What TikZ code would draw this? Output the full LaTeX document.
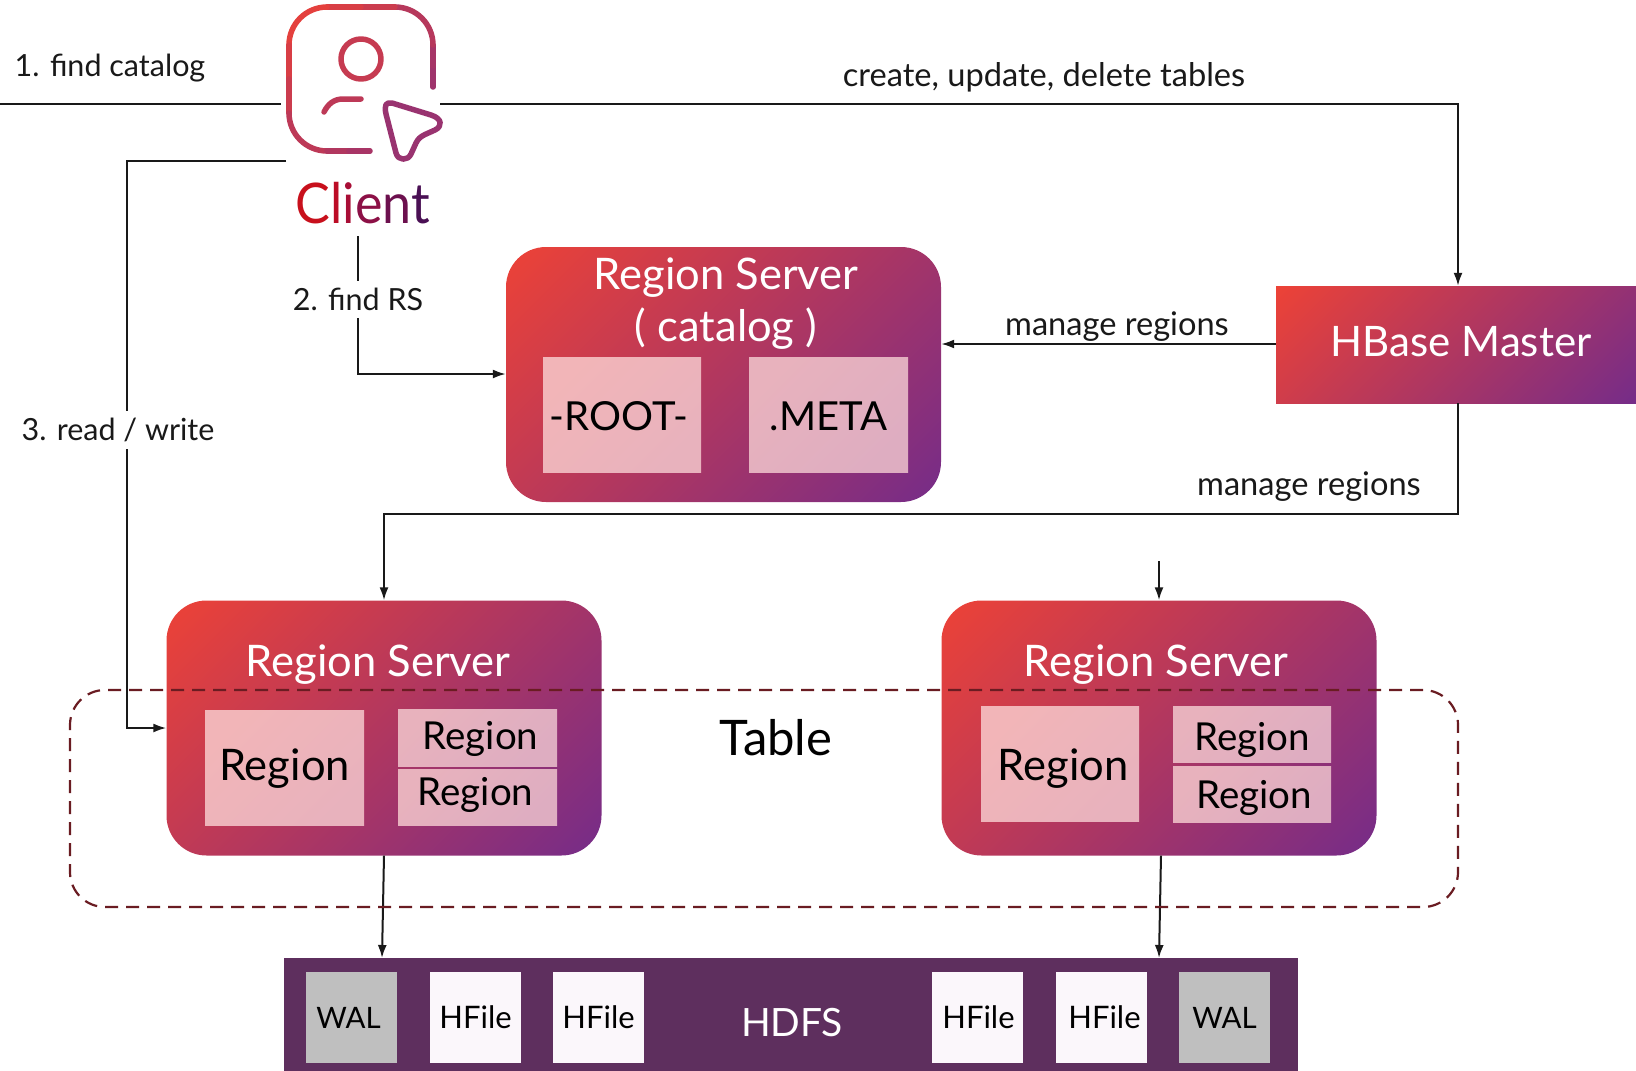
\documentclass[tikz,border=0pt]{standalone}
\usepackage{xcolor}
\usepackage{fontspec}
\setmainfont{Lato}
\usetikzlibrary{positioning, arrows.meta, shapes}

\definecolor{gradstart}{HTML}{EC4237}
\definecolor{gradend}{HTML}{762C88}
\definecolor{hdfsbar}{HTML}{5E2F5E}
\definecolor{tableline}{HTML}{6A1C22}
\definecolor{rosea}{HTML}{F2B5B8}
\definecolor{roseb}{HTML}{E8B2BD}
\definecolor{rosec}{HTML}{DEADC1}

\newcommand{\fsize}[1]{\fontsize{#1}{#1}\selectfont}
\pgfdeclareverticalshading{servergrad}{100bp}{color(0bp)=(gradend); color(15bp)=(gradend); color(85bp)=(gradstart); color(100bp)=(gradstart)}

\begin{document}
\begin{tikzpicture}[x=1pt, y=-1pt,
    conn/.style={line width=2pt, draw=black!90},
    tip/.style={-{Latex[length=13pt,width=9pt]}},
    lab/.style={font=\fsize{30.5}, text=black!90, inner sep=0pt},
    longlab/.style={font=\fsize{32.6}, text=black!90, inner sep=0pt},
    gapped/.style={lab, fill=white, inner ysep=7pt, inner xsep=2pt},
    icon/.style={draw=gradstart!#1!gradend, line width=5.5pt, line cap=round, line join=round},
    grad/.style={shade, shading=servergrad, shading angle=45},
    server/.style={grad, rounded corners=40pt, minimum width=435pt, minimum height=255pt},
    rosewest/.style={top color=rosea, bottom color=roseb, shading angle=45},
    roseeast/.style={top color=roseb, bottom color=rosec, shading angle=45},
    inner box/.style={text=black, font=\fsize{40}, inner sep=0pt, text depth=0pt, text height=#1},
    bigregion/.style={inner box=#1, font=\fsize{43.5}},
    smallregion/.style={inner box=#1, font=\fsize{38.5}},
    srvtext/.style={text=white, font=\fsize{43.5}, inner sep=0pt},
    filebox/.style={minimum width=91pt, minimum height=91pt, font=\fsize{31}, text=black, inner sep=0pt},
]
    \useasboundingbox (0,0) rectangle (1636,1071);

    % Client frame
    \draw[icon=35] (433,87) -- (433,66);
    \draw[icon=41] (433,66) -- (433,45);
    \draw[icon=54] (433,45) arc[start angle=0, end angle=-90, radius=38];
    \draw[icon=72] (395,7) -- (361,7);
    \draw[icon=83] (361,7) -- (327,7);
    \draw[icon=93] (327,7) arc[start angle=-90, end angle=-180, radius=38];
    \draw[icon=83] (289,45) -- (289,79);
    \draw[icon=72] (289,79) -- (289,113);
    \draw[icon=60] (289,113) arc[start angle=180, end angle=90, radius=38];
    \draw[icon=50] (327,151) -- (349,151);
    \draw[icon=42] (349,151) -- (370,151);
    % Person and pointer
    \draw[icon=68] (361,59) circle (20);
    \draw[icon=60] (361,99) -- (343,99) .. controls (334,99) and (328,104) .. (324,112);
    \draw[icon=30] (392,103) -- (431,115) .. controls (442,118.5) and (443,126) .. (435,130) -- (425,134.5)
        .. controls (420,137) and (418,139) .. (416,143) -- (411,154) .. controls (408,161) and (398,161) .. (396,153)
        -- (386,114) .. controls (384,105) and (386,102) .. (392,103) -- cycle;
    \node[inner sep=0pt, font=\fsize{56}] (client) at (363,203) {\scalebox{.93}[1]{\textcolor[HTML]{C8101C}{C}\textcolor[HTML]{BC0C26}{l}\textcolor[HTML]{A80E36}{i}\textcolor[HTML]{8C1046}{e}\textcolor[HTML]{6C104E}{n}\textcolor[HTML]{4A1054}{t}}};

    % Servers
    \node[server] (catalog) at (723.5,374.5) {};
    \node[server] (rsleft) at (384,728) {};
    \node[server] (rsright) at (1159,728) {};
    \node[grad, minimum width=360pt, minimum height=117pt] (master) at (1456,344.5) {};

    \node[srvtext] (catalogtitle) at (726,278) {Region Server};
    \node[srvtext] (catalogsub) at (726,329) {( catalog )};
    \node[srvtext, font=\fsize{42}] (mastertitle) at (1461,342) {HBase Master};
    \node[srvtext] (lefttitle) at (378,665) {Region Server};
    \node[srvtext] (righttitle) at (1156,665) {Region Server};

    % Regions
    \node[inner box=32pt, rosewest, minimum width=158pt, minimum height=115pt] (root) at (622,414.5) {\hspace*{-6pt}-ROOT-};
    \node[inner box=32pt, roseeast, minimum width=159pt, minimum height=115pt] (meta) at (828.5,414.5) {.META};
    \node[bigregion=26pt, rosewest, minimum width=159pt, minimum height=115pt] (regiona) at (284.5,767.5) {Region};
    \node[smallregion=23pt, roseeast, minimum width=159pt, minimum height=57pt] (regionb) at (477.5,737.5) {\hspace*{6pt}Region};
    \node[smallregion=17pt, roseeast, minimum width=159pt, minimum height=56pt] (regionc) at (477.5,797) {Region\hspace*{4pt}};
    \node[bigregion=34pt, rosewest, minimum width=158pt, minimum height=115pt] (regiond) at (1060,763.5) {\hspace*{6pt}Region};
    \node[smallregion=32pt, roseeast, minimum width=158pt, minimum height=56pt] (regione) at (1252,734) {Region};
    \node[smallregion=28pt, roseeast, minimum width=158pt, minimum height=56pt] (regionf) at (1252,794) {\hspace*{4pt}Region};

    % HDFS
    \node[fill=hdfsbar, minimum width=1014pt, minimum height=113pt, inner sep=0pt] (hdfs) at (791,1014.5) {};
    \node[text=white, font=\fsize{39}, inner sep=0pt] (hdfstitle) at (792,1023) {HDFS};
    \node[filebox, fill=black!25, font=\fsize{29.5}] (wala) at (351.5,1017.5) {WAL\hspace*{6pt}};
    \node[filebox, fill=white!97!violet] (filea) at (475.5,1017.5) {HFile};
    \node[filebox, fill=white!97!violet] (fileb) at (598.5,1017.5) {HFile};
    \node[filebox, fill=white!97!violet] (filec) at (977.5,1017.5) {\hspace*{2pt}HFile};
    \node[filebox, fill=white!97!violet] (filed) at (1101.5,1017.5) {\hspace*{6pt}HFile};
    \node[filebox, fill=black!25, font=\fsize{29.5}] (walb) at (1224.5,1017.5) {WAL};

    % Free ends
    \coordinate (leftend) at (0,104);
    \coordinate (clientwest) at (281,104);
    \coordinate (clienteast) at (440,104);
    \coordinate (clientlow) at (286,161);
    \coordinate (clientfoot) at (358,236);
    \coordinate (catalogin) at (catalog.west |- 0,374);
    \coordinate (leftin) at (rsleft.west |- 0,728);
    \coordinate (turnmaster) at (1458,514);
    \coordinate (stub) at (1159,561);

    % Connectors
    \draw[conn] (leftend) -- (clientwest);
    \draw[conn,tip] (clienteast) -| (master.north -| turnmaster);
    \draw[conn,tip] (clientlow) -- (127,161) -- (127,728) node[gapped, pos=.475, xshift=-9pt] (readlabel) {3. read / write} -- (leftin);
    \draw[conn,tip] (clientfoot) -- (358,374) node[gapped, pos=.46] (rslabel) {2. find RS} -- (catalogin);
    \draw[conn,tip] (master.west |- 0,344) -- (catalog.east |- 0,344);
    \draw[conn,tip] (master.south -| turnmaster) -- (turnmaster) -- (384,514) -- (rsleft.north);
    \draw[conn,tip] (stub) -- (rsright.north);
    \draw[conn,tip] (rsleft.south) -- (382,958);
    \draw[conn,tip] (rsright.south -| 1161,0) -- (1159,958);

    % Table
    \node[draw=tableline, dashed, dash pattern=on 13pt off 8pt, line width=2.2pt, rounded corners=35pt, minimum width=1388pt, minimum height=217pt, inner sep=0pt] (table) at (764,798.5) {};
    \node[inner sep=0pt, font=\fsize{49}, text=black] (tabletitle) at (776,738) {Table};

    % Labels
    \node[lab] (findcatalog) at (110,68) {1. find catalog};
    \node[longlab] (tableslabel) at (1044,77) {create, update, delete tables};
    \node[longlab] (managetop) at (1117,327) {manage regions};
    \node[longlab] (managelow) at (1309,487) {manage regions};
\end{tikzpicture}
\end{document}
